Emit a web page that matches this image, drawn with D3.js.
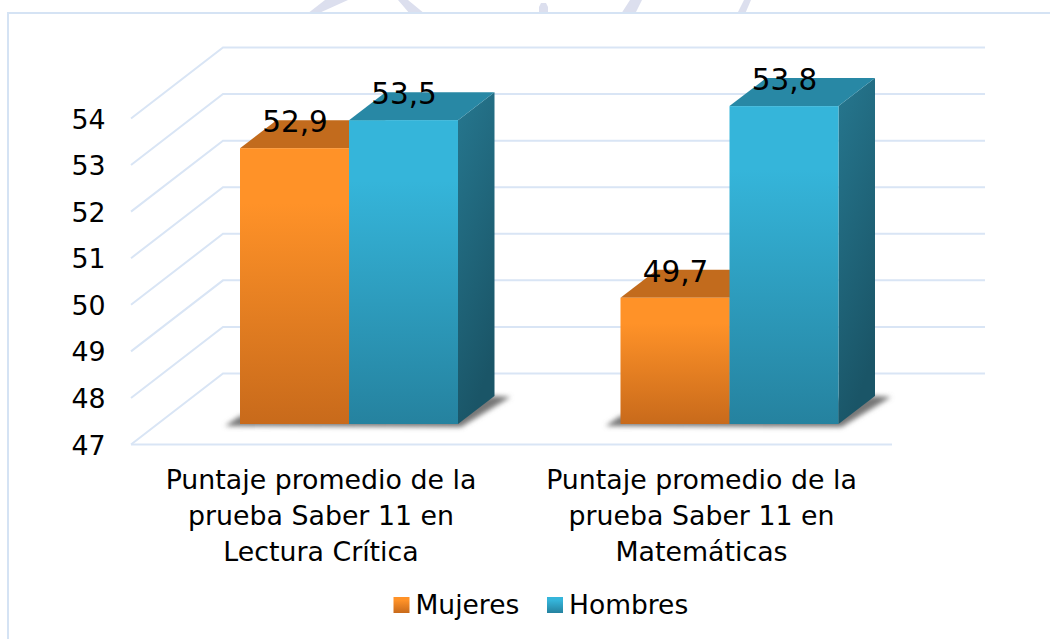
<!DOCTYPE html>
<html><head><meta charset="utf-8">
<script src="https://cdn.jsdelivr.net/npm/d3@7/dist/d3.min.js"></script>
<style>html,body{margin:0;padding:0;background:#fff}svg{display:block}text{font-family:"DejaVu Sans",sans-serif;fill:#000}</style>
</head><body><div id="c"></div>
<script>
const categories = [["Puntaje promedio de la","prueba Saber 11 en","Lectura Crítica"],["Puntaje promedio de la","prueba Saber 11 en","Matemáticas"]];
const seriesNames = ["Mujeres","Hombres"];
const mujeres = [52.9,49.7];
const hombres = [53.5,53.8];
const labelsMujeres = ["52,9","49,7"];
const labelsHombres = ["53,5","53,8"];
const yTicks = [47,48,49,50,51,52,53,54];

const W=1050,H=639;
const svg=d3.select("#c").append("svg").attr("width",W).attr("height",H);
const defs=svg.append("defs");
function grad(id,x2,y2,a,b,hold){const g=defs.append("linearGradient").attr("id",id).attr("x1",0).attr("y1",0).attr("x2",x2).attr("y2",y2);
 g.append("stop").attr("offset",0).attr("stop-color",a);
 if(hold) g.append("stop").attr("offset",hold).attr("stop-color",a);
 g.append("stop").attr("offset",1).attr("stop-color",b);}
grad("fO",0,1,"#ff9228","#c86a1b",0.2);grad("fB",0,1,"#35b5da","#25829f",0.2);
grad("sB",0.3,1,"#26778f","#1a5567");
const blur=defs.append("filter").attr("id","bl").attr("x","-20%").attr("y","-50%").attr("width","140%").attr("height","200%");
blur.append("feGaussianBlur").attr("stdDeviation",2.6);

// watermark
const wm=svg.append("g").attr("fill","#dcdfee");
const poly=d3.line();
wm.append("path").attr("d",poly([[307,14],[325,0],[348,0],[317,14]])+"Z");
wm.append("path").attr("d",poly([[398,0],[408,0],[425,14],[410,14]])+"Z");
wm.append("path").attr("d",poly([[539,14],[539,7],[541,3],[546,3],[548,7],[548,14]])+"Z");
wm.append("path").attr("d",poly([[621,14],[630,0],[642,0],[635,14]])+"Z");
wm.append("path").attr("d",poly([[737,14],[744,0],[751,0],[745,14]])+"Z");

// frame
svg.append("rect").attr("x",8).attr("y",13).attr("width",1060).attr("height",640).attr("fill","#fff").attr("stroke","#d5e3f4").attr("stroke-width",2);

const y=d3.scaleLinear().domain([47,54]).range([444.5,118.5]);
const yBack=d3.scaleLinear().domain([47,54]).range([373.5,47.5]);
const yBar=d3.scaleLinear().domain([47,54]).range([424,96.75]);
const x0=d3.scaleBand().domain([0,1]).range([158.75,919.75]);
const x1=d3.scaleBand().domain([0,1]).range([-109,109]);
const fx=131,bx=223,bxEnd=985,fxEnd=892;

const grid=svg.append("g").attr("fill","none").attr("stroke","#d9e5f5").attr("stroke-width",2);
yTicks.forEach(t=>{
 grid.append("path").attr("d",poly([[fx,y(t)],[bx,yBack(t)],[bxEnd,yBack(t)]]));
});
grid.append("path").attr("d",poly([[fx,y(47)],[fxEnd,y(47)]]));

yTicks.forEach(t=>svg.append("text").attr("x",105.5).attr("y",y(t)+10).attr("text-anchor","end").attr("font-size",26.8).text(t));

const dx=36.5,dy=28,bw=x1.bandwidth();
const rows=[{vals:mujeres,labs:labelsMujeres,f:"url(#fO)",top:"#c26b1d",side:"#a85c18",k:0},{vals:hombres,labs:labelsHombres,f:"url(#fB)",top:"#2888a5",side:"url(#sB)",k:1}];
const base=yBar(47);
const center=i=>x0(i)+x0.bandwidth()/2;
// shadows
[0,1].forEach(i=>{
 const l=center(i)-bw, r=center(i)+bw;
 svg.append("path").attr("filter","url(#bl)").attr("fill","#777")
  .attr("d",poly([[l-15,base+2],[l,base-8],[r+dx,base-dy],[r+dx+16,base-dy+1],[r+3,base+3]])+"Z");
});
[0,1].forEach(i=>{
 rows.forEach(r=>{
  const l=center(i)+x1(r.k), v=r.vals[i], t=yBar(v);
  const g=svg.append("g");
  g.append("polygon").attr("points",[[l+bw,t],[l+bw+dx,t-dy],[l+bw+dx,base-dy],[l+bw,base]].join(" ")).attr("fill",r.side);
  g.append("polygon").attr("points",[[l,t],[l+dx,t-dy],[l+bw+dx,t-dy],[l+bw,t]].join(" ")).attr("fill",r.top);
  g.append("rect").attr("x",l).attr("y",t).attr("width",bw).attr("height",base-t).attr("fill",r.f);
 });
});
[0,1].forEach(i=>{
 rows.forEach(r=>{
  const l=center(i)+x1(r.k);
  svg.append("text").attr("x",l+bw/2+0.5).attr("y",yBar(r.vals[i])-16).attr("text-anchor","middle").attr("font-size",29.5).text(r.labs[i]);
 });
});
categories.forEach((c,i)=>{
 c.forEach((s,j)=>svg.append("text").attr("x",center(i)-28).attr("y",489+j*36).attr("text-anchor","middle").attr("font-size",26.8).text(s));
});
const lx=[393.5,547];
seriesNames.forEach((s,i)=>{
 svg.append("rect").attr("x",lx[i]).attr("y",597).attr("width",16).attr("height",16).attr("fill",rows[i].f);
 svg.append("text").attr("x",lx[i]+22).attr("y",613.5).attr("font-size",26.5).text(s);
});
</script></body></html>
